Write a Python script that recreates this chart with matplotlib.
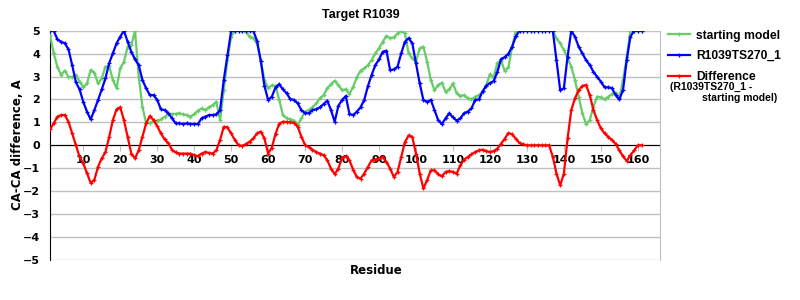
import matplotlib
matplotlib.use("Agg")
import matplotlib.pyplot as plt
import numpy as np

residues = list(range(1, 162))

starting_model = [
    4.81, 4.01, 3.43, 3.07, 3.26, 2.99, 2.97, 3.07, 2.78, 2.53,
    2.70, 3.28, 3.17, 2.70, 2.92, 3.43, 3.46, 2.85, 2.49, 3.36,
    3.65, 4.30, 4.37, 5.00, 2.99, 1.69, 0.96, 0.99, 1.03, 1.08,
    1.13, 1.25, 1.37, 1.37, 1.37, 1.40, 1.35, 1.32, 1.25, 1.37,
    1.51, 1.61, 1.54, 1.66, 1.76, 1.90, 1.10, 2.41, 3.72, 4.74,
    5.00, 5.00, 5.00, 4.96, 4.74, 4.67, 4.45, 3.70, 2.85, 2.50,
    2.62, 2.60, 1.98, 1.32, 1.18, 1.13, 1.08, 0.89, 1.18, 1.47,
    1.54, 1.66, 1.83, 2.05, 2.19, 2.49, 2.67, 2.82, 2.63, 2.41,
    2.44, 2.24, 2.56, 2.97, 3.26, 3.36, 3.50, 3.72, 4.01, 4.23,
    4.52, 4.77, 4.67, 4.71, 4.88, 5.00, 4.88, 4.01, 3.79, 3.65,
    4.23, 4.30, 3.65, 2.85, 2.41, 2.63, 2.73, 2.34, 2.44, 2.70,
    2.27, 2.15, 2.19, 2.05, 2.00, 2.12, 2.19, 2.34, 2.63, 3.10,
    2.95, 3.60, 3.70, 3.25, 3.40, 4.30, 5.00, 5.00, 5.00, 5.00,
    5.00, 5.00, 5.00, 5.00, 5.00, 5.00, 5.00, 4.67, 4.45, 4.16,
    3.79, 3.43, 2.85, 2.12, 1.40, 0.93, 1.10, 1.69, 2.12, 2.09,
    2.00, 2.12, 2.24, 2.30, 2.05, 2.85, 3.87, 5.00, 5.00, 5.00, 5.00,
]

model_ts270 = [
    5.00, 5.00, 4.62, 4.52, 4.45, 4.19, 3.50, 2.75, 2.44, 1.90,
    1.47, 1.13, 1.54, 1.98, 2.44, 2.92, 3.58, 4.01, 4.45, 4.74,
    5.00, 4.52, 4.08, 3.75, 3.50, 2.85, 2.49, 2.19, 2.19, 1.98,
    1.57, 1.54, 1.40, 1.18, 0.96, 0.96, 0.93, 0.96, 0.93, 0.93,
    0.93, 1.18, 1.25, 1.32, 1.32, 1.35, 1.54, 2.85, 3.94, 5.00,
    5.00, 5.00, 5.00, 5.00, 5.00, 5.00, 4.55, 3.70, 2.60, 1.98,
    2.12, 2.53, 2.67, 2.44, 2.27, 2.02, 1.98, 1.83, 1.54, 1.40,
    1.40, 1.54, 1.57, 1.66, 1.80, 1.95, 1.54, 1.03, 1.72, 1.98,
    2.15, 1.37, 1.32, 1.47, 1.66, 1.98, 2.59, 3.07, 3.50, 3.75,
    4.08, 4.13, 3.28, 3.31, 3.43, 4.01, 4.52, 4.67, 4.45, 3.58,
    2.70, 1.98, 1.90, 1.98, 1.54, 1.10, 0.93, 1.18, 1.40, 1.22,
    1.08, 1.18, 1.40, 1.47, 1.61, 1.98, 2.00, 2.35, 2.60, 2.72,
    2.80, 3.20, 3.76, 3.85, 4.00, 4.30, 4.75, 5.00, 5.00, 5.00,
    5.00, 5.00, 5.00, 5.00, 5.00, 5.00, 5.00, 3.72, 2.41, 2.49,
    3.87, 5.00, 4.74, 4.30, 4.01, 3.72, 3.50, 3.21, 2.99, 2.78,
    2.53, 2.53, 2.49, 2.19, 2.00, 2.41, 3.72, 4.74, 5.00, 5.00, 5.00,
]

difference = [
    0.70, 0.96, 1.25, 1.32, 1.32, 1.03, 0.52, 0.00, -0.50, -0.79,
    -1.21, -1.64, -1.50, -0.93, -0.57, -0.29, 0.36, 1.10, 1.57, 1.66,
    1.10, 0.38, -0.36, -0.57, -0.21, 0.38, 0.96, 1.28, 1.10, 0.84,
    0.52, 0.26, 0.09, -0.19, -0.31, -0.36, -0.36, -0.36, -0.36, -0.43,
    -0.47, -0.36, -0.29, -0.33, -0.36, -0.21, 0.23, 0.81, 0.78, 0.52,
    0.23, 0.01, -0.03, 0.06, 0.16, 0.30, 0.52, 0.60, 0.30, -0.36,
    -0.10, 0.50, 0.94, 1.03, 1.02, 1.00, 0.99, 0.81, 0.38, 0.01,
    -0.07, -0.19, -0.29, -0.36, -0.43, -0.65, -1.01, -1.26, -1.01, -0.54,
    -0.48, -0.65, -1.06, -1.38, -1.45, -1.23, -0.94, -0.65, -0.62, -0.58,
    -0.51, -0.72, -1.01, -1.38, -1.16, -0.51, 0.14, 0.43, 0.36, -0.36,
    -1.23, -1.88, -1.52, -1.09, -1.09, -1.26, -1.35, -1.16, -1.12, -1.16,
    -1.23, -0.87, -0.62, -0.51, -0.39, -0.29, -0.22, -0.19, -0.25, -0.29,
    -0.25, -0.14, 0.07, 0.29, 0.54, 0.48, 0.29, 0.10, 0.04, 0.00,
    0.00, 0.00, 0.00, 0.00, 0.00, 0.00, -0.50, -1.23, -1.74, -1.23,
    0.30, 1.54, 2.05, 2.41, 2.59, 2.63, 2.19, 1.54, 1.10, 0.74,
    0.52, 0.38, 0.23, 0.06, -0.22, -0.48, -0.68, -0.43, -0.22, 0.00, 0.00,
]

x_ticks = list(range(10, 161, 10))
y_ticks = list(range(-5, 6))

title = "Target R1039"
xlabel = "Residue"
ylabel = "CA-CA difference, A"

fig = plt.figure(figsize=(8, 3), dpi=100)
ax = fig.add_axes([50 / 800, 1 - 260 / 300, 610 / 800, 229.3 / 300])

lw = 1.6
mk = dict(marker="+", markersize=3.5, markeredgewidth=0.9)
l1, = ax.plot(residues, starting_model, color="#66CC66", lw=lw, **mk, label="starting model", zorder=3)
l2, = ax.plot(residues, model_ts270, color="#0000FF", lw=lw, **mk, label="R1039TS270_1", zorder=4)
l3, = ax.plot(residues, difference, color="#FF0000", lw=lw, **mk, label="Difference", zorder=5)

ax.set_xlim(1, 166)
ax.set_ylim(-5, 5)
ax.set_yticks(y_ticks)
ax.set_xticks(x_ticks)
ax.yaxis.grid(True, color="#C0C0C0", lw=1)
ax.set_axisbelow(True)

for s in ["top", "right"]:
    ax.spines[s].set_color("#C0C0C0")
ax.spines["top"].set_visible(False)
ax.spines["left"].set_color("black")
ax.spines["bottom"].set_position(("data", 0))
ax.spines["bottom"].set_color("black")
ax.spines["bottom"].set_zorder(2)

ax.tick_params(axis="y", length=0, pad=7, labelsize=8)
ax.tick_params(axis="x", length=4, color="#C0C0C0", pad=3, labelsize=8, direction="out")
for lab in ax.get_xticklabels() + ax.get_yticklabels():
    lab.set_fontweight("bold")

fig.text(361 / 800, 1 - 15 / 300, title, ha="center", va="center",
         fontsize=9, fontweight="bold", family="Liberation Sans")
fig.text(376 / 800, 1 - 270 / 300, xlabel, ha="center", va="center",
         fontsize=8.5, fontweight="bold")
fig.text(18 / 800, 1 - 145 / 300, ylabel, ha="center", va="center",
         rotation=90, fontsize=8.5, fontweight="bold")

leg = fig.legend(handles=[l1, l2, l3], loc="upper left",
                 bbox_to_anchor=(668 / 800, 1 - 29.5 / 300),
                 frameon=False, handlelength=1.8, handletextpad=0.5,
                 labelspacing=0.72, borderpad=0, borderaxespad=0,
                 prop=dict(family="Liberation Sans", weight="bold", size=8.7),
                 markerscale=1.0)
fig.text(670 / 800, 1 - 87 / 300, "(R1039TS270_1 -", ha="left", va="center",
         fontsize=7.5, fontweight="bold", family="Liberation Sans")
fig.text(702 / 800, 1 - 98 / 300, "starting model)", ha="left", va="center",
         fontsize=7.5, fontweight="bold", family="Liberation Sans")

fig.savefig("out.png", dpi=100)
